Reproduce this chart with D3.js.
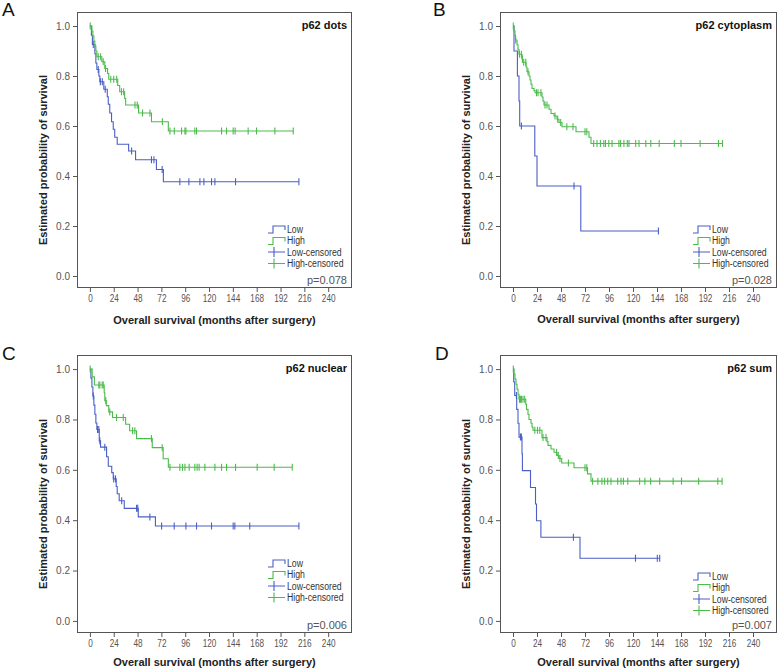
<!DOCTYPE html>
<html>
<head>
<meta charset="utf-8">
<script src="https://cdn.jsdelivr.net/npm/d3@7"></script>
<style>
  body { margin: 0; background: #fff; }
  svg text { font-family: "Liberation Sans", Arial, sans-serif; }
</style>
</head>
<body>
<svg id="chart" width="779" height="669"></svg>
<script>
// tick labels shared by all four panels
var xTicks = [0, 24, 48, 72, 96, 120, 144, 168, 192, 216, 240];
var yTicks = [0, 0.2, 0.4, 0.6, 0.8, 1.0];
var legendLabels = ["Low", "High", "Low-censored", "High-censored"];

// A: p62 dots
var aLowT  = [0, 1.5, 2.5, 5, 6, 7, 9, 10, 14, 17.5, 18.5, 20, 21.8, 23.5, 25, 27.5, 39, 46, 67, 74];
var aLowS  = [1, 0.963, 0.926, 0.889, 0.852, 0.826, 0.80, 0.777, 0.747, 0.717, 0.687, 0.652, 0.617, 0.587, 0.555, 0.527, 0.50, 0.465, 0.426, 0.377];
var aLowC  = [3.4, 8.4, 10.5, 12.5, 15.4, 42, 62, 64.5, 72.8, 90.6, 99.7, 110.8, 114.8, 122.5, 125.9, 146.7, 210.5];
var aHighT = [0, 2, 3, 4, 5, 6, 7, 12, 15, 17.8, 19, 28, 30, 35, 36, 49, 62, 79];
var aHighS = [1, 0.98, 0.96, 0.94, 0.92, 0.90, 0.877, 0.857, 0.83, 0.81, 0.787, 0.762, 0.737, 0.71, 0.684, 0.652, 0.617, 0.58];
var aHighC = [0.3, 8.4, 10.8, 13.4, 15.8, 21, 24, 27, 31.8, 34, 45.4, 47.7, 53, 60.5, 73, 80.6, 85, 92.3, 95.7, 96.7, 105.7, 107.4, 132.6, 137.6, 144.3, 146.3, 159.4, 167.8, 186.3, 204.8];

// B: p62 cytoplasm
var bLowT  = [0, 1, 4.4, 6, 6.7, 21.8, 24, 67.8];
var bLowS  = [1, 0.9, 0.8, 0.7, 0.6, 0.48, 0.36, 0.18];
var bLowC  = [8.4, 61, 145.4];
var bHighT = [0, 1, 2, 2.5, 4, 5, 6, 9, 9.5, 13, 14, 16, 17, 18, 19, 21, 22, 29, 30, 31, 36, 38, 41, 44, 46, 49, 63, 76, 78];
var bHighS = [1, 0.98, 0.963, 0.944, 0.925, 0.906, 0.887, 0.868, 0.855, 0.836, 0.817, 0.80, 0.784, 0.767, 0.75, 0.742, 0.733, 0.716, 0.70, 0.684, 0.667, 0.65, 0.64, 0.627, 0.614, 0.597, 0.577, 0.555, 0.53];
var bHighC = [0.3, 2.7, 6.5, 8.4, 9.4, 10.7, 12.8, 15, 23.5, 25, 27.9, 32, 34, 42, 44.7, 47.7, 53.8, 60, 72, 73.8, 80.7, 84, 87.4, 90.8, 92.5, 95.8, 99.1, 105.9, 107.6, 110.9, 114.3, 116, 122.7, 126, 132.8, 137.8, 146.2, 161.3, 168, 187.1, 205.5, 209.5];

// C: p62 nuclear
var cLowT  = [0, 1, 2, 3, 4, 5, 6, 7, 9.4, 10.7, 16.8, 18.5, 22, 23.5, 26.5, 27.5, 29.5, 34.6, 48.7, 66];
var cLowS  = [1, 0.964, 0.929, 0.893, 0.857, 0.821, 0.786, 0.76, 0.715, 0.69, 0.652, 0.614, 0.589, 0.564, 0.534, 0.505, 0.477, 0.447, 0.413, 0.377];
var cLowC  = [3.4, 7.7, 9, 10, 15, 24, 25.8, 32, 47, 48.2, 60.4, 72.2, 84.9, 96.7, 107.4, 122.5, 144.3, 146, 161, 210.5];
var cHighT = [0, 2.3, 4.5, 14.4, 15, 16.5, 19, 22.8, 36, 40, 47, 62.8, 73.8, 79];
var cHighS = [1, 0.969, 0.937, 0.906, 0.875, 0.855, 0.83, 0.808, 0.781, 0.755, 0.724, 0.688, 0.644, 0.61];
var cHighC = [0.3, 9, 10, 12.4, 13.4, 16, 20, 26.8, 33.6, 43, 45.3, 62, 72.8, 80.6, 90.6, 93.3, 95.7, 100, 105.7, 108, 110, 115.8, 125.9, 132.6, 137.6, 146.7, 168.5, 185.6, 203.8];

// D: p62 sum
var dLowT  = [0, 0.7, 1.7, 3.7, 5, 6, 9, 9.4, 17.5, 22.5, 23.5, 27.9, 67];
var dLowS  = [1, 0.95, 0.895, 0.84, 0.785, 0.73, 0.664, 0.597, 0.53, 0.464, 0.398, 0.332, 0.249];
var dLowC  = [3.4, 7.4, 8.4, 60.4, 122.5, 144.3, 146.7];
var dHighT = [0, 1, 2, 3, 4, 5, 6, 12.8, 13.5, 15, 16, 18, 19, 20, 29, 34, 35, 38, 41, 44, 46, 48.7, 61, 74.5, 78];
var dHighS = [1, 0.98, 0.96, 0.94, 0.92, 0.90, 0.88, 0.86, 0.84, 0.82, 0.80, 0.785, 0.77, 0.757, 0.728, 0.712, 0.697, 0.683, 0.67, 0.657, 0.645, 0.627, 0.608, 0.584, 0.555];
var dHighC = [0.3, 6.5, 7.4, 8.4, 10, 11.7, 21.8, 24.5, 26.8, 30, 33, 43.6, 45.3, 47, 55.4, 72, 73.8, 79.6, 84.9, 88.9, 91.6, 94.7, 98, 104.7, 108, 110.4, 114.8, 126.6, 131.9, 137.6, 146.7, 160.1, 168.5, 185.6, 204.8, 209.1];

var blue = "#4a5fc6", green = "#4cbb4c", frame = "#555", txt = "#555";

var panels = [
  {letter: "A", title: "p62 dots", p: "p=0.078", x: 77, y: 12, w: 275, h: 276, lx: 2, ly: 16, leg: 217, xt: 36,
   low: [aLowT, aLowS, aLowC], high: [aHighT, aHighS, aHighC]},
  {letter: "B", title: "p62 cytoplasm", p: "p=0.028", x: 500, y: 12, w: 277, h: 276, lx: 433, ly: 16, leg: 217, xt: 35,
   low: [bLowT, bLowS, bLowC], high: [bHighT, bHighS, bHighC]},
  {letter: "C", title: "p62 nuclear", p: "p=0.006", x: 77, y: 355, w: 275, h: 278, lx: 2, ly: 360, leg: 208, xt: 32.5,
   low: [cLowT, cLowS, cLowC], high: [cHighT, cHighS, cHighC]},
  {letter: "D", title: "p62 sum", p: "p=0.007", x: 500, y: 355, w: 277, h: 278, lx: 435, ly: 360, leg: 221, xt: 32.5,
   low: [dLowT, dLowS, dLowC], high: [dHighT, dHighS, dHighC]}
];

var svg = d3.select("#chart");

function survAt(T, S, t) {
  var i = d3.bisectRight(T, t) - 1;
  return S[Math.max(0, i)];
}

panels.forEach(function(p) {
  svg.append("text")
    .attr("x", p.lx).attr("y", p.ly)
    .attr("font-size", 19).attr("fill", "#111")
    .text(p.letter);

  var g = svg.append("g").attr("transform", "translate(" + p.x + "," + p.y + ")");

  var x = d3.scaleLinear().domain([-13, 264]).range([0, p.w]);
  var y = d3.scaleLinear().domain([-0.048, 1.056]).range([p.h, 0]);

  // frame
  g.append("rect")
    .attr("x", 0.5).attr("y", 0.5)
    .attr("width", p.w - 1).attr("height", p.h - 1)
    .attr("fill", "none").attr("stroke", frame).attr("stroke-width", 1);

  var xAxis = g.append("g")
    .attr("transform", "translate(0," + p.h + ")")
    .call(d3.axisBottom(x).tickValues(xTicks).tickSize(4).tickPadding(3).tickFormat(d3.format("d")));
  var yAxis = g.append("g")
    .call(d3.axisLeft(y).tickValues(yTicks).tickSize(4).tickPadding(3).tickFormat(d3.format(".1f")));
  [xAxis, yAxis].forEach(function(a) {
    a.select(".domain").remove();
    a.selectAll("line").attr("stroke", frame);
    a.selectAll("text").attr("fill", txt).attr("font-size", 10)
      .attr("font-family", "'Liberation Sans', Arial, sans-serif");
  });
  // x tick labels are narrower in the original
  xAxis.selectAll("text").attr("transform", "scale(0.82,1)");

  // axis titles
  g.append("text")
    .attr("transform", "translate(" + (-30) + "," + (p.h / 2 + 10) + ") rotate(-90)")
    .attr("text-anchor", "middle").attr("font-size", 11).attr("font-weight", "bold").attr("fill", "#222")
    .text("Estimated probability of survival");
  g.append("text")
    .attr("x", p.w / 2).attr("y", p.h + p.xt)
    .attr("text-anchor", "middle").attr("font-size", 11).attr("font-weight", "bold").attr("fill", "#222")
    .text("Overall survival (months after surgery)");

  // title and p value
  g.append("text")
    .attr("x", p.w - 5).attr("y", 17)
    .attr("text-anchor", "end").attr("font-size", 11).attr("font-weight", "bold").attr("fill", "#111")
    .text(p.title);
  g.append("text")
    .attr("x", p.w - 5).attr("y", p.h - 4)
    .attr("text-anchor", "end").attr("font-size", 11).attr("fill", txt)
    .text(p.p);

  var line = d3.line()
    .x(function(d) { return x(d[0]); })
    .y(function(d) { return y(d[1]); })
    .curve(d3.curveStepAfter);

  [[p.low, blue], [p.high, green]].forEach(function(s) {
    var T = s[0][0], S = s[0][1], C = s[0][2];
    var end = Math.max(T[T.length - 1], d3.max(C));
    var pts = T.map(function(t, i) { return [t, S[i]]; });
    pts.push([end, S[S.length - 1]]);
    g.append("path")
      .attr("d", line(pts))
      .attr("fill", "none").attr("stroke", s[1]).attr("stroke-width", 1.1);
    g.selectAll(null)
      .data(C)
      .enter()
      .append("line")
      .attr("x1", function(d) { return x(d); })
      .attr("x2", function(d) { return x(d); })
      .attr("y1", function(d) { return y(survAt(T, S, d)) - 3.5; })
      .attr("y2", function(d) { return y(survAt(T, S, d)) + 3.5; })
      .attr("stroke", s[1]).attr("stroke-width", 1.1);
  });

  // legend
  var lg = g.append("g").attr("transform", "translate(" + (p.w - 84) + "," + p.leg + ")");
  legendLabels.forEach(function(lab, i) {
    var cy = i * 11.5;
    var col = (i % 2 === 0) ? blue : green;
    if (i < 2) {
      lg.append("path")
        .attr("d", "M0," + (cy + 4) + "H5V" + (cy - 3) + "H17V" + (cy + 1))
        .attr("fill", "none").attr("stroke", col).attr("stroke-width", 1.1);
    } else {
      lg.append("path")
        .attr("d", "M0," + cy + "H17M6," + (cy - 5) + "V" + (cy + 5))
        .attr("fill", "none").attr("stroke", col).attr("stroke-width", 1.1);
    }
    lg.append("text")
      .attr("transform", "translate(19," + (cy + 3.5) + ") scale(0.87,1)")
      .attr("font-size", 10).attr("fill", "#333")
      .text(lab);
  });
});
</script>
</body>
</html>
